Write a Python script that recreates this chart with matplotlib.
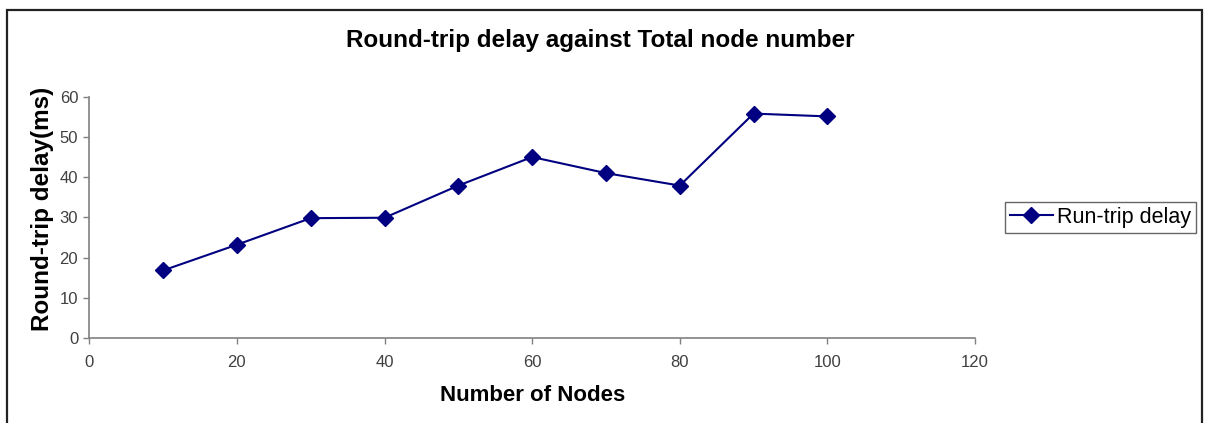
import matplotlib
matplotlib.use("Agg")
import matplotlib.pyplot as plt
from matplotlib.patches import Rectangle

plt.rcParams['font.family'] = ['Liberation Sans', 'DejaVu Sans']

nodes = [10, 20, 30, 40, 50, 60, 70, 80, 90, 100]
delay = [16.8, 23.2, 29.8, 29.9, 37.9, 45.0, 41.0, 37.9, 55.8, 55.1]
xticks = [0, 20, 40, 60, 80, 100, 120]
yticks = [0, 10, 20, 30, 40, 50, 60]

fig = plt.figure(figsize=(12.05, 4.23), dpi=100)
ax = fig.add_axes([89.3/1205, 1-338/423, (975-89.3)/1205, (338-96.7)/423])

ax.plot(nodes, delay, color='#000080', lw=1.5, marker='D', markersize=8,
        markerfacecolor='#000080', markeredgecolor='#000080', label='Run-trip delay')

ax.set_xlim(0, 120)
ax.set_ylim(0, 60)
ax.set_xticks(xticks)
ax.set_yticks(yticks)
ax.tick_params(direction='out', length=4, width=1, color='#808080', labelcolor='#404040', labelsize=12)
ax.tick_params(axis='x', pad=8)
ax.tick_params(axis='y', pad=4)
for s in ['top', 'right']:
    ax.spines[s].set_visible(False)
for s in ['left', 'bottom']:
    ax.spines[s].set_color('#808080')
    ax.spines[s].set_linewidth(1.2)

ax.set_xlabel('Number of Nodes', fontsize=16, fontweight='bold', labelpad=11)
ax.set_ylabel('Round-trip delay(ms)', fontsize=17.5, fontweight='bold', labelpad=4, y=0.535)
fig.text(600/1205, 1-41/423, 'Round-trip delay against Total node number',
         fontsize=17.5, fontweight='bold', ha='center', va='center')

leg = ax.legend(loc='center left', bbox_to_anchor=(1005/1205, 1-217.5/423),
                bbox_transform=fig.transFigure, fontsize=15.5, frameon=True,
                fancybox=False, edgecolor='#404040', handlelength=2.0,
                handletextpad=0.2, borderpad=0.22, borderaxespad=0)
leg.get_frame().set_linewidth(1.0)

fig.patches.append(Rectangle((6.5/1205, -0.05), (1202-6.5)/1205, 1.05 - 10/423,
                             transform=fig.transFigure, fill=False,
                             edgecolor='#222222', linewidth=1.6, clip_on=False))

fig.savefig('out.png', dpi=100)
